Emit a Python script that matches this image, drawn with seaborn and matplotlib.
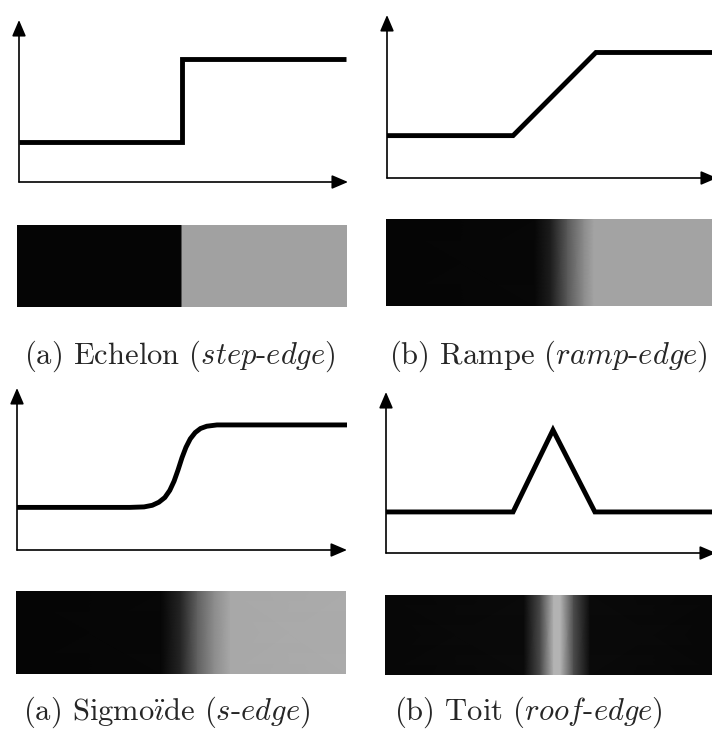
import numpy as np
import pandas as pd
import matplotlib
matplotlib.use("Agg")
import matplotlib.pyplot as plt
import seaborn as sns

sns.set_style("white")
plt.rcParams["font.family"] = ["cmr10", "DejaVu Serif"]
plt.rcParams["mathtext.fontset"] = "cm"
plt.rcParams["axes.unicode_minus"] = False

# ---- edge profiles (x: 0-100 along axis, y: 0-100 intensity) ----
step_x = [0, 49.5, 49.5, 99.5]
step_y = [25, 25, 76, 76]

ramp_x = [0, 38.2, 63.3, 100]
ramp_y = [26, 26, 77, 77]

sig_x = [0, 34.2, 38.5, 41.0, 43.0, 44.8, 46.3, 47.6, 48.8, 50.0, 51.2, 52.5,
         54.0, 55.6, 57.5, 60.6, 100]
sig_y = [26.3, 26.3, 26.6, 27.6, 29.5, 32.4, 36.8, 42.5, 49.4, 57.0, 63.4, 68.6,
         72.5, 75.0, 76.4, 77.2, 77.2]

roof_x = [0, 38.5, 50.6, 63.3, 100]
roof_y = [25.5, 25.5, 76.4, 25.5, 25.5]

# ---- image strip grey-level profiles (x: fraction of strip width, v: 0-1) ----
strip1_x = [0, 0.5, 0.5, 1]
strip1_v = [0.02, 0.02, 0.63, 0.63]
strip2_x = [0, 0.45, 0.50, 0.55, 0.60, 0.63, 1]
strip2_v = [0.02, 0.03, 0.12, 0.35, 0.55, 0.64, 0.64]
strip3_x = [0, 0.44, 0.50, 0.55, 0.60, 0.65, 1]
strip3_v = [0.02, 0.03, 0.15, 0.38, 0.55, 0.66, 0.67]
strip4_x = [0, 0.42, 0.47, 0.51, 0.53, 0.57, 0.62, 1]
strip4_v = [0.03, 0.04, 0.30, 0.70, 0.70, 0.30, 0.04, 0.03]

captions = [
    "(a) Echelon ($\\mathit{step}$-$\\mathit{edge}$)",
    "(b) Rampe ($\\mathit{ramp}$-$\\mathit{edge}$)",
    "(a) Sigmo$\\ddot{\\imath}$de ($\\mathit{s}$-$\\mathit{edge}$)",
    "(b) Toit ($\\mathit{roof}$-$\\mathit{edge}$)",
]

W, H = 712, 740
fig = plt.figure(figsize=(W / 100, H / 100), dpi=100)


def px_axes(left, top, right, bottom):
    return fig.add_axes([left / W, 1 - bottom / H, (right - left) / W, (bottom - top) / H])


def line_panel(box, xs, ys):
    ax = px_axes(*box)
    df = pd.DataFrame({"x": xs, "y": ys})
    sns.lineplot(data=df, x="x", y="y", sort=False, estimator=None, color="black", lw=3.5,
                 ax=ax, solid_joinstyle="miter", solid_capstyle="butt")
    ax.set_xlim(0, 100)
    ax.set_ylim(0, 100)
    for s in ax.spines.values():
        s.set_visible(False)
    ax.set_xticks([])
    ax.set_yticks([])
    ax.set_xlabel("")
    ax.set_ylabel("")
    ax.patch.set_alpha(0)
    kw = dict(arrowstyle="-|>,head_length=0.7,head_width=0.3", lw=1.2, color="black",
              shrinkA=0, shrinkB=0, mutation_scale=14)
    ax.annotate("", xy=(1, 0), xytext=(0, 0), xycoords="axes fraction",
                arrowprops=kw, annotation_clip=False)
    ax.annotate("", xy=(0, 1), xytext=(0, 0), xycoords="axes fraction",
                arrowprops=kw, annotation_clip=False)
    return ax


def strip_panel(box, xs, vs):
    ax = px_axes(*box)
    X = np.array([xs, xs])
    Y = np.array([[0] * len(xs), [1] * len(xs)])
    C = np.array([vs, vs])
    ax.pcolormesh(X, Y, C, shading="gouraud", cmap="gray", vmin=0, vmax=1)
    ax.set_xlim(0, 1)
    ax.set_ylim(0, 1)
    ax.axis("off")
    return ax


line_panel((19, 20, 348, 182), step_x, step_y)
line_panel((387, 15, 717, 178), ramp_x, ramp_y)
line_panel((17, 388, 347, 550), sig_x, sig_y)
line_panel((386, 392, 716, 553), roof_x, roof_y)

strip_panel((17, 225, 347, 307), strip1_x, strip1_v)
strip_panel((386, 219, 716, 306), strip2_x, strip2_v)
strip_panel((16, 591, 346, 674), strip3_x, strip3_v)
strip_panel((385, 595, 716, 675), strip4_x, strip4_v)

cap_pos = [(180, 356), (548, 356), (167, 712), (528, 712)]
for (cx, cy), t in zip(cap_pos, captions):
    fig.text(cx / W, 1 - cy / H, t, ha="center", va="center", fontsize=22)

fig.savefig("out.png", dpi=100, facecolor="white")
